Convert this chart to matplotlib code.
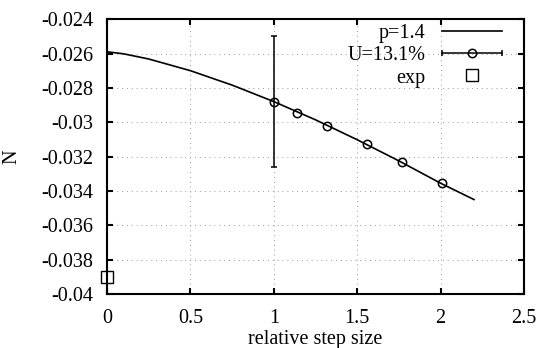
import numpy as np
import matplotlib
matplotlib.use('Agg')
import matplotlib.pyplot as plt
from matplotlib.lines import Line2D
from matplotlib.legend_handler import HandlerBase

# Data

# fitted curve p=1.4
fit_h = [0.0, 0.1, 0.25, 0.5, 0.75, 1.0, 1.25, 1.5, 1.75, 2.0, 2.2]
fit_n = [-0.0259, -0.02602, -0.02632, -0.0270, -0.02784, -0.0288,
         -0.02986, -0.03102, -0.03225, -0.03355, -0.0345]

# computed points U=13.1%
pts_h = [1.0, 1.14, 1.32, 1.56, 1.77, 2.01]
pts_n = [-0.0288, -0.02945, -0.0302, -0.03125, -0.0323, -0.03355]
pts_err = [0.0038, 0, 0, 0, 0, 0]

# experiment
exp_h = [0.0]
exp_n = [-0.039]

xticks = [0, 0.5, 1, 1.5, 2, 2.5]
xticklabels = ['0', '0.5', '1', '1.5', '2', '2.5']
yticks = [-0.04, -0.038, -0.036, -0.034, -0.032, -0.03, -0.028, -0.026, -0.024]
yticklabels = ['-0.04', '-0.038', '-0.036', '-0.034', '-0.032', '-0.03',
               '-0.028', '-0.026', '-0.024']

plt.rcParams['font.family'] = ['Liberation Serif', 'DejaVu Serif']
plt.rcParams['axes.unicode_minus'] = False


class CapLine(HandlerBase):
    # gnuplot style key: line with point and end caps
    def create_artists(self, legend, orig_handle, xdescent, ydescent,
                       width, height, fontsize, trans):
        y = height / 2 - ydescent
        x0, x1 = -xdescent, width - xdescent
        line = Line2D([x0, x1], [y, y], color='k', lw=1.1)
        mid = Line2D([(x0 + x1) / 2], [y], marker='o', ms=6, mfc='none',
                     mec='k', mew=1.1, ls='none')
        caps = Line2D([x0, x1], [y, y], marker='|', ms=5, mew=1.1,
                      color='k', ls='none')
        for a in (line, mid, caps):
            a.set_transform(trans)
        return [line, mid, caps]


fig = plt.figure(figsize=(5.38, 3.48), dpi=100)
ax = fig.add_axes([0.199, 0.155, 0.775, 0.79])

ax.plot(fit_h, fit_n, color='k', lw=1.2, label='p=1.4')
pts_line, = ax.plot(pts_h, pts_n, ls='none', marker='o', ms=6,
                    mfc='none', mec='k', mew=1.1, label='U=13.1%')
big = [i for i, e in enumerate(pts_err) if e > 0]
ax.errorbar([pts_h[i] for i in big], [pts_n[i] for i in big],
            yerr=[pts_err[i] for i in big], fmt='none', ecolor='k',
            elinewidth=1.1, capsize=2.5, capthick=1.1)
ax.plot(exp_h, exp_n, ls='none', marker='s', ms=8, mfc='none', mec='k',
        mew=1.0, label='exp', clip_on=False, zorder=5)

ax.set_xlim(0, 2.5)
ax.set_ylim(-0.04, -0.024)
ax.set_xticks(xticks)
ax.set_xticklabels(xticklabels)
ax.set_yticks(yticks)
ax.set_yticklabels(yticklabels)
ax.tick_params(direction='in', length=4, width=1.5, top=True, right=True,
               labelsize=14.5)
ax.tick_params(axis='y', pad=10)
ax.tick_params(axis='x', pad=11)
for s in ax.spines.values():
    s.set_linewidth(1.5)

ax.grid(True, color='0.6', ls=(0, (1, 4)), lw=0.7)
ax.set_xlabel('relative step size', fontsize=14.5, labelpad=1)
ax.set_ylabel('N', fontsize=14.5, labelpad=14)

handles, labels = ax.get_legend_handles_labels()
ax.legend(handles, labels, loc='upper right', bbox_to_anchor=(0.967, 1.011),
          frameon=False, markerfirst=False, fontsize=14.5, handlelength=3.0,
          handletextpad=0.8, labelspacing=0.15, borderaxespad=0,
          handler_map={pts_line: CapLine()})

fig.savefig('out.png', dpi=100)
